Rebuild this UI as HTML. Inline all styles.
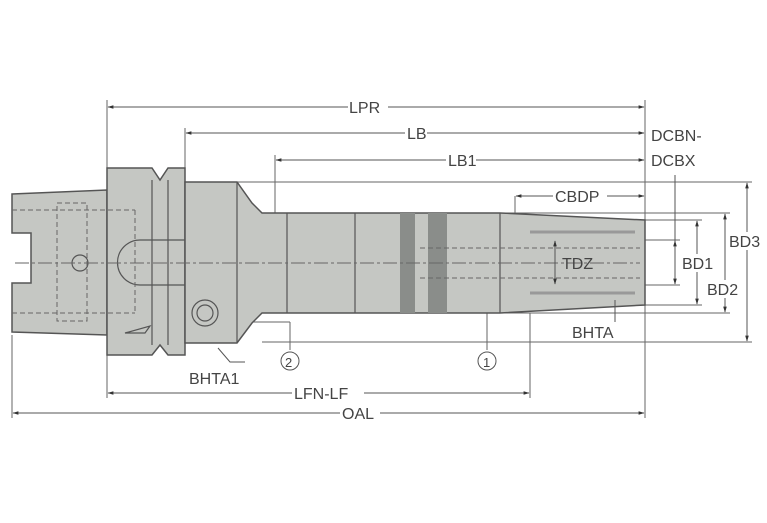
<!DOCTYPE html>
<html><head><meta charset="utf-8"><style>
html,body{margin:0;padding:0;background:#fff;}
svg{display:block;}
text{font-family:"Liberation Sans",sans-serif;font-size:16px;fill:#444;}
</style></head><body>
<svg width="767" height="523" viewBox="0 0 767 523" xmlns="http://www.w3.org/2000/svg">
<defs>
<marker id="a" viewBox="0 0 10 10" refX="9" refY="5" markerWidth="6" markerHeight="6" orient="auto-start-reverse"><path d="M0,2 L10,5 L0,8z" fill="#333"/></marker>
</defs>
<g stroke="#666" stroke-width="1" fill="none">
<line x1="107" y1="100" x2="107" y2="398"/>
<line x1="12" y1="335" x2="12" y2="418"/>
<line x1="645" y1="100" x2="645" y2="418"/>
<line x1="185" y1="128" x2="185" y2="168"/>
<line x1="275" y1="155" x2="275" y2="213"/>
<line x1="530" y1="313" x2="530" y2="398"/>
<line x1="237" y1="182" x2="752" y2="182"/>
<line x1="262" y1="342" x2="752" y2="342"/>
<line x1="500" y1="213" x2="730" y2="213"/>
<line x1="500" y1="313" x2="730" y2="313"/>
<line x1="645" y1="220" x2="702" y2="220"/>
<line x1="645" y1="305" x2="702" y2="305"/>
<line x1="515" y1="240" x2="680" y2="240"/>
<line x1="515" y1="285" x2="680" y2="285"/>
<line x1="515" y1="196" x2="515" y2="240"/>
<line x1="237" y1="322" x2="290" y2="322"/>
<line x1="290" y1="322" x2="290" y2="350"/>
<line x1="487" y1="263" x2="487" y2="350"/>
</g>
<g fill="#c5c7c3" stroke="#555" stroke-width="1.5">
<path d="M12,194 L107,190 L107,335 L12,332 L12,283 L31,283 L31,233 L12,233 Z"/>
<path d="M107,168 L152,168 L160,180 L168,168 L185,168 L185,355 L168,355 L160,345 L152,355 L107,355 Z"/>
<path d="M185,182 L237,182 L252,203 L262,213 L500,213 L645,220 L645,305 L500,313 L262,313 L252,323 L237,343 L185,343 Z"/>
</g>
<g fill="#8a8d8a">
<rect x="400" y="213" width="15" height="100"/>
<rect x="428" y="213" width="19" height="100"/>
</g>
<g stroke="#555" stroke-width="1.2" fill="none">
<line x1="287" y1="213" x2="287" y2="313"/>
<line x1="355" y1="213" x2="355" y2="313"/>
<line x1="500" y1="213" x2="500" y2="313"/>
<line x1="237" y1="182" x2="237" y2="343"/>
<line x1="152" y1="180" x2="152" y2="345"/>
<line x1="168" y1="180" x2="168" y2="345"/>
<path d="M185,240 L140,240 A22,22 0 0 0 140,285 L185,285"/>
<circle cx="205" cy="313" r="13"/><circle cx="205" cy="313" r="8"/>
<circle cx="80" cy="263" r="8"/>
<path d="M125,333 L150,326 L145,333 Z"/>
</g>
<g stroke="#666" stroke-width="1" stroke-dasharray="5,3" fill="none">
<line x1="15" y1="263" x2="640" y2="263" stroke-dasharray="14,3,3,3"/>
<rect x="57" y="203" width="30" height="118"/>
<line x1="12" y1="210" x2="135" y2="210"/>
<line x1="12" y1="313" x2="135" y2="313"/>
<line x1="135" y1="210" x2="135" y2="313"/>
<line x1="420" y1="248" x2="640" y2="248"/>
<line x1="420" y1="278" x2="640" y2="278"/>
</g>
<g stroke="#999" stroke-width="3"><line x1="530" y1="232" x2="635" y2="232"/><line x1="530" y1="293" x2="635" y2="293"/></g>
<g stroke="#555" stroke-width="1" fill="none" marker-start="url(#a)" marker-end="url(#a)">
<line x1="108" y1="107" x2="644" y2="107"/>
<line x1="186" y1="133" x2="644" y2="133"/>
<line x1="276" y1="160" x2="644" y2="160"/>
<line x1="516" y1="196" x2="644" y2="196"/>
<line x1="108" y1="393" x2="529" y2="393"/>
<line x1="13" y1="413" x2="644" y2="413"/>
<line x1="747" y1="183" x2="747" y2="341"/>
<line x1="725" y1="214" x2="725" y2="312"/>
<line x1="697" y1="221" x2="697" y2="304"/>
<line x1="675" y1="241" x2="675" y2="284"/>
<line x1="555" y1="241" x2="555" y2="284"/>
</g>
<line x1="675" y1="175" x2="675" y2="241" stroke="#555"/>
<line x1="615" y1="300" x2="615" y2="322" stroke="#555"/>
<g fill="#fff">
<rect x="348" y="98" width="40" height="18"/><rect x="405" y="124" width="22" height="18"/>
<rect x="446" y="151" width="30" height="18"/><rect x="553" y="187" width="54" height="18"/>
<rect x="292" y="384" width="72" height="18"/><rect x="340" y="404" width="40" height="18"/>
<rect x="727" y="232" width="40" height="18"/><rect x="705" y="280" width="40" height="18"/>
<rect x="680" y="254" width="36" height="18"/>
</g>
<text x="349" y="113">LPR</text>
<text x="407" y="139">LB</text>
<text x="448" y="166">LB1</text>
<text x="555" y="202">CBDP</text>
<text x="651" y="141">DCBN-</text>
<text x="651" y="166">DCBX</text>
<text x="729" y="247">BD3</text>
<text x="707" y="295">BD2</text>
<text x="682" y="269">BD1</text>
<text x="562" y="269">TDZ</text>
<text x="572" y="338">BHTA</text>
<text x="189" y="384">BHTA1</text>
<text x="294" y="399">LFN-LF</text>
<text x="342" y="419">OAL</text>
<circle cx="290" cy="361" r="9" fill="#fff" stroke="#555"/>
<text x="285" y="367" style="font-size:13px">2</text>
<circle cx="487" cy="361" r="9" fill="#fff" stroke="#555"/>
<text x="483" y="367" style="font-size:13px">1</text>
<path d="M218,348 L230,362 L245,362" stroke="#555" fill="none"/>
</svg>
</body></html>
